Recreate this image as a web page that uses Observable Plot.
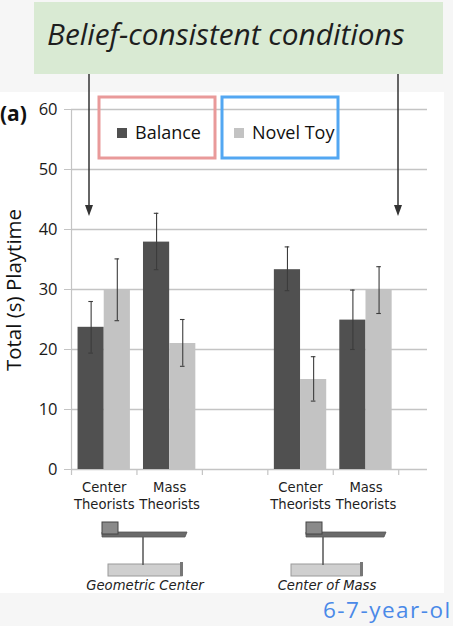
<!DOCTYPE html>
<html>
<head>
<meta charset="utf-8">
<script src="https://cdn.jsdelivr.net/npm/d3@7"></script>
<script src="https://cdn.jsdelivr.net/npm/@observablehq/plot@0.6"></script>
<style>
  html, body { margin: 0; padding: 0; }
  body { width: 453px; height: 626px; background: #f6f6f6; position: relative; overflow: hidden; font-family: "Open Sans", sans-serif; }
  #banner { position: absolute; left: 34px; top: 2px; width: 409px; height: 72px; background: #d9ead3; }
  #banner span { position: absolute; left: 13px; top: 17px; line-height: 1; font-family: "Open Sans", sans-serif; font-style: italic; font-size: 29.8px; color: #1e1e1e; white-space: nowrap; }
  #chart { position: absolute; left: 0; top: 92px; }
  #overlay { position: absolute; left: 0; top: 0; pointer-events: none; }
  #footer { position: absolute; left: 323px; top: 599px; line-height: 1; font-family: "Open Sans", sans-serif; font-size: 22.5px; letter-spacing: 1.5px; color: #4a89e8; white-space: nowrap; }
</style>
</head>
<body>
<div id="banner"><span>Belief-consistent conditions</span></div>
<div id="chart"></div>
<div id="footer">6-7-year-ol</div>
<svg id="overlay" width="453" height="626"></svg>
<script>
// ---- data ----
const groups = ["Geometric Center", "Center of Mass"];
const theorists = ["Center\nTheorists", "Mass\nTheorists", "Center\nTheorists", "Mass\nTheorists"];
const slots = [0, 1, 3, 4];            // category index along the axis (slot 2 is the gap)
const series = ["Balance", "Novel Toy"];
const balanceMean = [23.7, 37.9, 33.3, 24.9];
const balanceLow  = [19.4, 33.3, 29.8, 20.0];
const balanceHigh = [28.0, 42.7, 37.1, 29.9];
const novelMean   = [30.0, 21.0, 15.0, 30.0];
const novelLow    = [24.8, 17.2, 11.4, 26.0];
const novelHigh   = [35.1, 25.0, 18.8, 33.8];
const yTicks = [0, 10, 20, 30, 40, 50, 60];
const colors = {"Balance": "#505050", "Novel Toy": "#c3c3c3"};

const rows = [];
slots.forEach((s, i) => {
  rows.push({slot: s, series: "Balance", value: balanceMean[i], lo: balanceLow[i], hi: balanceHigh[i]});
  rows.push({slot: s, series: "Novel Toy", value: novelMean[i], lo: novelLow[i], hi: novelHigh[i]});
});
const off = d => (d.series === "Balance" ? 0.1 : 0.5);
const mid = d => d.slot + off(d) + 0.2;
const labels = slots.map((s, i) => ({slot: s, text: theorists[i]}));

const plot = Plot.plot({
  width: 444, height: 501,
  marginTop: 17, marginBottom: 124, marginLeft: 71, marginRight: 17,
  x: {domain: [0, 5.44], axis: null},
  y: {domain: [0, 60], ticks: yTicks},
  style: {background: "white", fontFamily: "'Open Sans', sans-serif", color: "#222"},
  marks: [
    Plot.gridY(yTicks, {stroke: "#c4c4c4", strokeOpacity: 1, strokeWidth: 1.5}),
    Plot.ruleX([0], {stroke: "#c4c4c4", strokeWidth: 1.2}),
    Plot.ruleX(d3.range(0, 6), {x: d => d, y1: 0, y2: -1, stroke: "#c4c4c4", strokeWidth: 1.2}),
    Plot.rectY(rows, {x1: d => d.slot + off(d), x2: d => d.slot + off(d) + 0.4, y: "value", fill: d => colors[d.series], insetLeft: 0, insetRight: 0}),
    Plot.ruleX(rows, {x: mid, y1: "lo", y2: "hi", stroke: "#3c3c3c", strokeWidth: 1.1}),
    Plot.ruleY(rows, {y: "hi", x1: d => mid(d) - 0.035, x2: d => mid(d) + 0.035, stroke: "#3c3c3c", strokeWidth: 1.1}),
    Plot.ruleY(rows, {y: "lo", x1: d => mid(d) - 0.035, x2: d => mid(d) + 0.035, stroke: "#3c3c3c", strokeWidth: 1.1}),
    Plot.axisY({ticks: yTicks, tickSize: 7, tickPadding: 7, fontSize: 16.5, stroke: "#c4c4c4", fill: "#1a1a1a", label: null}),
    Plot.text(labels, {x: d => d.slot + 0.5, y: 0, text: "text", dy: 11, lineAnchor: "top", lineHeight: 1.27,
      fontFamily: "DejaVu Sans, sans-serif", fontSize: 13.2, fill: "#1e1e1e"})
  ]
});
document.getElementById("chart").appendChild(plot);

// ---- overlay annotations ----
const svg = d3.select("#overlay");
svg.append("text").attr("x", 0).attr("y", 121).attr("font-family", "'Open Sans', sans-serif").attr("font-weight", "bold")
  .attr("font-size", 21).attr("fill", "#111").text("(a)");
svg.append("text").attr("transform", "translate(21,290) rotate(-90)").attr("text-anchor", "middle")
  .attr("font-family", "'Open Sans', sans-serif").attr("font-size", 20.5).attr("fill", "#111").text("Total (s) Playtime");

// legend boxes
svg.append("rect").attr("x", 99).attr("y", 97).attr("width", 116).attr("height", 61)
  .attr("fill", "none").attr("stroke", "#e99a9a").attr("stroke-width", 3);
svg.append("rect").attr("x", 222).attr("y", 97).attr("width", 116).attr("height", 61)
  .attr("fill", "none").attr("stroke", "#53a7f2").attr("stroke-width", 3);
const legendX = [117, 234];
series.forEach((s, i) => {
  svg.append("rect").attr("x", legendX[i]).attr("y", 128).attr("width", 10).attr("height", 10).attr("fill", colors[s]);
  svg.append("text").attr("x", legendX[i] + 18).attr("y", 139).attr("font-family", "'Open Sans', sans-serif")
    .attr("font-size", 18).attr("fill", "#111").text(s);
});

// arrows from banner
[89, 398].forEach(x => {
  svg.append("line").attr("x1", x).attr("x2", x).attr("y1", 74).attr("y2", 210).attr("stroke", "#333").attr("stroke-width", 1.5);
  svg.append("path").attr("d", `M${x - 4},${205} L${x + 4},${205} L${x},${216} Z`).attr("fill", "#333");
});

// balance icons
function icon(boxX, beamX1, beamX2, stemX, baseX1, baseX2) {
  const g = svg.append("g");
  g.append("rect").attr("x", baseX1).attr("y", 564).attr("width", baseX2 - baseX1).attr("height", 12)
    .attr("fill", "#cfcfcf").attr("stroke", "#9a9a9a").attr("stroke-width", 1);
  g.append("rect").attr("x", baseX2 - 2).attr("y", 562).attr("width", 3).attr("height", 14).attr("fill", "#777");
  g.append("line").attr("x1", stemX).attr("x2", stemX).attr("y1", 537).attr("y2", 565).attr("stroke", "#555").attr("stroke-width", 1.5);
  g.append("path").attr("d", `M${beamX1},532 L${beamX2},532 L${beamX2 - 2},537 L${beamX1},537 Z`)
    .attr("fill", "#6a6a6a").attr("stroke", "#555").attr("stroke-width", 0.8);
  g.append("rect").attr("x", boxX).attr("y", 522).attr("width", 16).attr("height", 12)
    .attr("fill", "#8a8a8a").attr("stroke", "#444").attr("stroke-width", 1);
}
icon(102, 102, 187, 143, 108, 182);
icon(306, 306, 386, 323, 291, 362);
const groupCenters = [145, 327];
groups.forEach((t, i) => {
  svg.append("text").attr("x", groupCenters[i]).attr("y", 590).attr("text-anchor", "middle")
    .attr("font-family", "DejaVu Sans, sans-serif").attr("font-style", "italic").attr("font-size", 13.2)
    .attr("fill", "#222").text(t);
});
</script>
</body>
</html>
